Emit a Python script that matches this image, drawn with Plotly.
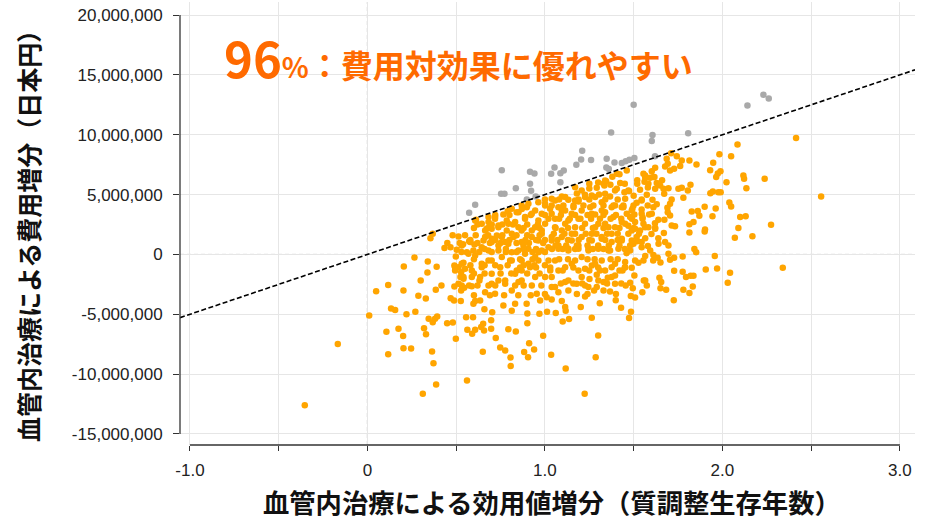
import plotly.graph_objects as go

# ---- data (QALY gain, cost difference in million yen) ----
gray_qaly = [0.607, 0.573, 1.373, 1.21, 1.204, 1.26, 1.348, 1.392, 1.433, 1.455,
             1.346, 1.36, 1.177, 1.054, 1.035, 1.087, 1.106, 1.087, 0.916, 0.941,
             0.916, 0.922, 0.757, 0.836, 0.753, 0.772, 0.898, 0.948, 1.50, 2.141,
             2.231, 2.261, 1.606, 1.602, 1.807, 1.476, 1.504, 1.62]
gray_cost_m = [4.15, 3.48, 10.19, 8.66, 7.94, 7.88, 7.99, 7.69, 7.63, 7.79,
               7.27, 7.13, 7.49, 7.27, 6.74, 6.79, 7.02, 6.04, 6.91, 6.77,
               5.9, 5.32, 7.04, 5.54, 5.07, 5.07, 4.59, 4.85, 12.5, 12.45,
               13.34, 13.03, 9.97, 9.47, 10.13, 7.91, 8.05, 8.2]

orange_qaly = [
    0.368, 0.355, 0.513, 0.612, 0.434, 0.468, 0.539, 0.573, 0.603, 0.503, 0.56, 0.597,
    2.415, 2.556, 2.085, 1.983, 2.049, 1.948, 1.931, 1.989, 1.974, 1.965,
    2.023, 2.118, 2.122, 2.238, 2.135, 1.932, 1.946, 1.977, 1.99, 2.039,
    2.049, 1.962, 1.9, 1.861, 1.827, 1.87, 1.944, 1.837, 1.814, 1.902,
    1.9, 1.814, 2.1, 2.131, 2.09, 2.274, 2.169, 2.07, 1.842, 1.852,
    1.711, 1.743, 1.771, 1.814, 1.854, 1.686, 1.692, 1.677, 1.705, 1.728,
    1.762, 1.621, 1.602, 1.555, 1.565, 1.593, 1.617, 1.561, 1.63, 1.649,
    1.668, 1.696, 1.621, 1.752, 1.771, 1.805, 1.82, 1.672, 1.78, 1.714,
    1.705, 1.536, 1.474, 1.574, 1.606, 1.545, 1.517, 1.579, 1.611, 1.545,
    1.493, 1.504, 1.48, 1.587, 1.639, 1.673, 1.692, 1.705, 1.714, 1.733,
    1.508, 1.555, 1.583, 1.621, 1.536, 1.489, 1.517, 1.565, 1.639, 1.677,
    1.696, 1.499, 1.545, 1.593, 1.48, 1.611, 1.696,
    2.34, 2.043, 2.03, 1.97, 1.906, 1.957, 1.776, 1.728, 1.705,
    1.728, 1.776, 1.795, 1.821, 1.837, 1.833, 1.814, 1.78, 1.726,
    1.683, 1.651, 1.655, 1.645, 1.574, 1.557, 1.549, 1.508, 1.484, 1.495,
    1.48, 1.504, 1.489, 1.527, 1.555, 1.61, 1.651, 1.635, 1.565, 1.485, 1.474,
    -0.167, -0.353, 0.01, 0.049, 0.117, 0.133, 0.156, 0.107, 0.117, 0.175,
    0.201, 0.203, 0.246, 0.22, 0.27, 0.203, 0.205, 0.265, 0.287, 0.329,
    0.3, 0.338, 0.34, 0.39, 0.385, 0.417, 0.345, 0.368, 0.381, 0.393,
    0.319, 0.33, 0.364, 0.372, 0.387, 0.312, 0.449, 0.481, 0.498, 0.561,
    0.556, 0.595, 0.563, 0.59, 0.607, 0.469, 0.488, 0.526, 0.49, 0.528,
    0.545, 0.531, 0.573, 0.588, 0.597, 0.607, 0.524, 0.541, 0.588, 0.528,
    0.49, 0.513, 0.541, 0.498, 0.569, 0.607, 0.55, 0.494,
    1.224, 1.117, 1.035, 1.286, 1.3, 1.264, 0.807, 0.806, 0.905, 0.883,
    0.939, 0.911, 0.776, 0.748, 0.65, 0.723, 0.794, 0.836, 0.697, 0.697,
    0.652, 0.641, 0.657, 0.901, 0.99, 1.1, 1.136, 1.061, 1.012, 0.969,
    0.901, 0.813, 0.703, 0.659, 1.117, 1.202, 1.309, 1.399, 1.429, 1.226,
    1.277, 1.367, 1.33, 1.455, 1.395, 1.354, 1.437, 1.452, 1.226, 1.179,
    1.251, 1.292, 1.189, 1.095, 1.038, 1.114,
    0.644, 0.7, 0.738, 0.663, 0.719, 0.766, 0.813, 0.851, 0.869, 0.907,
    0.945, 0.973, 0.954, 0.926, 1.001, 1.038, 1.076, 1.114, 1.132, 1.151,
    1.02, 0.813, 0.757, 0.682, 0.832, 0.776, 0.7, 1.207, 1.264, 1.32,
    1.376, 1.395, 1.33, 1.292, 1.076, 1.01, 0.897, 0.832, 0.635, 0.631,
    1.17, 1.292, 1.345, 1.335, 1.369, 1.424, 1.405, 1.448, 1.452, 1.095,
    1.038, 1.132, 1.189, 1.226, 1.264, 1.305, 1.367, 1.32, 1.395, 1.442,
    0.963, 0.907, 1.001, 0.869, 0.813, 0.851, 0.766, 0.719, 0.682, 0.644,
    0.663, 0.7, 0.738, 0.794, 0.832, 0.888, 0.926, 0.982, 1.029, 1.076,
    1.114, 1.161, 1.207, 1.255, 1.283, 1.339, 1.386, 1.433, 1.461, 1.057,
    1.132, 1.189, 1.226, 1.301, 1.358, 1.001, 0.945, 0.869, 0.813, 0.757,
    0.7, 0.654, 0.738, 0.794, 0.869, 0.926, 0.982, 1.038, 1.095, 1.151,
    1.207, 1.264, 1.32, 1.376, 1.433, 1.02, 1.076, 1.132, 1.189, 1.245,
    1.301, 1.367, 0.851, 0.907, 0.963, 0.682,
    0.607, 0.682, 0.672, 0.663, 0.644, 0.70, 0.729, 0.738, 0.785, 0.785,
    0.776, 0.823, 0.851, 0.841, 0.888, 0.898, 0.945, 0.963, 0.926, 0.879,
    0.963, 0.982, 0.531, 0.579,
    0.494, 0.531, 0.541, 0.588, 0.644, 0.635, 0.70, 0.748, 0.776,
    0.804, 0.841, 0.869, 0.869, 0.916, 0.945, 0.963, 0.832, 0.513, 0.682,
    0.813, 0.738, 0.888, 0.719, 0.982, 1.001,
    1.057, 1.114, 1.17, 1.226, 1.283, 1.339, 1.33, 1.395, 1.47, 1.545,
    1.583, 1.565, 1.611, 1.038, 1.095, 1.151, 1.264, 1.32, 1.376,
    1.433, 1.489, 1.545, 1.602, 1.057, 1.114, 1.17, 1.283, 1.339,
    1.395, 1.452, 1.508, 1.565, 1.621, 1.038, 1.095, 1.151, 1.264,
    1.32, 1.376, 1.433, 1.489, 1.545, 1.076, 1.132, 1.189, 1.245, 1.301, 1.358, 1.414,
    1.057, 1.114, 1.17, 1.226, 1.283, 1.339, 1.395, 1.452, 1.038, 1.132,
    1.207, 1.301, 1.376, 1.057, 1.245, 1.508, 1.565,
    1.207, 1.339, 1.405, 1.461,
    # second pass through the dense core
    1.038, 1.104, 1.161, 1.217, 1.273, 1.33, 1.386, 1.442, 1.499,
    1.02, 1.08, 1.14, 1.20, 1.26, 1.31, 1.37, 1.43, 1.49, 1.55,
    1.05, 1.11, 1.17, 1.23, 1.29, 1.35, 1.41, 1.47, 1.53,
    1.06, 1.12, 1.18, 1.24, 1.30, 1.36, 1.42, 1.48,
    1.03, 1.10, 1.25, 1.31, 1.42, 1.09, 1.16, 1.21, 1.35, 1.43,
    1.0, 1.18, 1.24, 1.4,
    0.79, 0.87,
    0.62, 0.70, 0.76, 0.82, 0.90, 0.96,
    0.48, 0.55, 0.61, 0.68, 0.76, 0.84, 0.90, 0.97,
    0.45, 0.52, 0.62, 0.69, 0.75, 0.84, 0.91, 0.99,
    0.53, 0.63, 0.70, 0.78, 0.84, 0.93, 1.0,
    0.58, 0.66, 0.72, 0.79, 0.88, 0.94, 1.0,
    0.60, 0.66, 0.75, 0.81, 0.90, 0.97,
    0.62, 0.72, 0.88, 0.98,
    0.60, 0.69, 0.77, 0.85, 0.92,
    1.52, 1.58, 1.66, 1.50, 1.63, 1.69, 1.55, 1.62, 1.47, 1.60,
    1.67, 1.52, 1.58, 1.64, 1.46,
    1.25, 1.38, 1.42, 1.30, 1.18,
    # third pass through the densest part
    0.72, 0.80, 0.92, 1.00, 1.09, 1.17, 1.24, 1.33, 1.40,
    0.60, 0.68, 0.88, 0.97, 1.06, 1.13, 1.21, 1.27, 1.33, 1.42, 1.50,
    0.58, 0.72, 0.80, 0.89, 0.95, 1.00, 1.07, 1.13, 1.19, 1.25, 1.34, 1.41,
    0.66, 0.78, 0.88, 0.95, 1.04, 1.10, 1.17, 1.27, 1.33, 1.45,
    0.60, 0.86, 0.93, 1.08, 1.13, 1.24, 1.28, 1.37, 1.41,
    0.86, 0.95, 1.03, 1.16, 1.30, 1.45,
    1.00, 1.08, 1.19, 1.25, 1.34, 1.41,
    1.25, 1.45, 1.52,
]
orange_cost_m = [
    1.73, 1.36, 1.50, 2.90, 0.53, 0.61, 0.86, 1.11, 0.84, 0.39, 0.19, 0.33,
    9.72, 4.85, 9.19, 8.38, 8.21, 7.66, 7.04, 6.96, 6.77, 6.46,
    6.04, 6.6, 6.32, 6.32, 5.54, 5.12, 5.26, 5.2, 5.2, 4.34,
    4.01, 3.84, 3.98, 3.62, 3.59, 3.23, 3.2, 2.7, 2.53, 2.09,
    1.92, 1.84, 3.12, 3.2, 2.2, 2.48, 1.53, 1.39, 0.45, 0.19,
    8.46, 8.21, 7.85, 7.85, 7.52, 7.99, 7.58, 7.35, 7.02, 7.16,
    7.38, 7.24, 6.96, 6.74, 6.41, 6.41, 6.46, 6.07, 5.96, 5.76,
    5.49, 5.54, 5.49, 5.49, 5.57, 5.35, 5.82, 5.07, 4.74, 4.59,
    4.24, 5.4, 5.29, 4.99, 4.57, 4.59, 4.32, 4.09, 3.95, 3.76,
    3.82, 3.34, 3.12, 3.34, 2.9, 2.9, 3.53, 3.26, 2.42, 2.36,
    2.7, 2.56, 2.28, 2.23, 2.0, 2.0, 1.45, 1.36, 1.36, 1.03,
    0.75, 0.89, 0.61, 0.33, 0.33, -0.05, 0.06,
    -1.11, -1.53, -2.36, -1.17, -1.25, -0.14, -0.17, -0.28, -0.45,
    -1.36, -1.45, -1.89, -1.78, -1.78, -2.67, -3.23, -2.95, -3.82,
    -2.95, -2.82, -2.31, -1.95, -2.59, -2.17, -3.15, -3.59, -3.48, -2.82,
    -2.36, -1.75, -1.11, -0.69, -0.5, -0.5, -0.67, -0.28, -0.14, -4.79, -5.32,
    -7.49, -12.6, -5.1, -3.07, -2.56, -4.51, -4.65, -6.46, -8.33, -6.21,
    -6.82, -7.83, -7.85, -4.99, -4.79, -3.01, -1.0, -0.25, -3.45, -3.68,
    -2.17, -1.5, -0.58, -1.03, -2.95, -2.59, -5.37, -5.66, -5.37, -5.18,
    -6.16, -6.66, -8.1, -9.08, -10.86, -11.64, -5.74, -5.68, -7.04, -10.53,
    -5.24, -5.24, -6.29, -6.63, -6.29, -3.65, -3.84, -3.9, -2.67, -3.01,
    -2.78, -2.59, -2.59, -2.65, -4.12, -3.9, -1.89, -2.03, -1.89, -1.48,
    -0.92, -1.06, -0.69, -0.17, 0.06, -0.08, -1.2, -1.34,
    -11.64, -9.52, -8.38, -8.58, -6.77, -5.29, -9.33, -8.6, -8.58, -8.16,
    -7.94, -7.41, -8.02, -7.77, -8.13, -6.99, -6.24, -6.43, -6.21, -5.49,
    -5.79, -6.07, -6.35, -5.74, -6.79, -5.6, -5.4, -4.9, -4.79, -4.96,
    -4.93, -4.7, -4.82, -4.57, -4.7, -4.4, -4.07, -3.82, -4.45, -3.51,
    -3.01, -3.09, -3.01, -2.59, -2.45, -1.95, -1.34, -0.64, -2.59, -2.45,
    -2.06, -1.7, -1.34, -3.9, -3.76, -4.4,
    -1.06, -1.62, -2.17, -3.15, -3.29, -4.26, -3.01, -2.31, -1.34, -0.78,
    -0.22, -3.84, -3.29, -2.59, -1.89, -2.73, -1.34, -2.31, -3.01, -0.78,
    -0.5, -0.5, -0.22, -0.5, -1.62, -2.45, -2.45, -0.22, -0.92, -0.5,
    -1.06, -1.75, -2.31, -2.73, -3.15, -3.57, -4.12, -4.12, -3.84, -2.17,
    5.62, 5.57, 6.12, 5.76, 5.82, 5.96, 5.49, 5.2, 4.65, 4.85,
    4.65, 4.57, 4.43, 4.99, 4.93, 5.01, 4.85, 4.37, 4.09, 3.95,
    4.37, 4.24, 4.09, 4.09, 3.82, 3.53, 3.34, 2.98, 2.7, 2.56,
    2.0, 2.14, 2.28, 2.56, 2.7, 2.98, 3.4, 3.4, 3.82, 3.95,
    3.68, 3.95, 3.68, 3.95, 3.34, 3.53, 3.12, 2.7, 3.4, 2.98,
    2.84, 2.98, 2.56, 2.56, 2.28, 2.56, 2.28, 2.0, 1.73, 1.45,
    1.31, 1.17, 0.75, 0.89, 1.03, 1.45, 1.73, 1.45, 2.0, 1.73,
    1.45, 1.73, 1.31, 1.73, 1.17, 0.61, 0.75, 0.47, 0.75, 0.47,
    0.61, 0.33, 0.33, 0.47, 0.19, 0.33,
    2.84, 3.12, 2.14, 1.45, 0.61, 1.03, 1.59, 2.42, 2.84, 2.0,
    1.03, 1.45, 2.28, 3.53, 3.12, 3.95, 3.68, 2.84, 2.0, 0.75,
    1.17, 0.33, 0.75, 1.03,
    -1.06, -0.78, -1.89, -1.34, -0.78, -1.89, -0.5, -1.06, -2.17,
    -0.5, -1.34, -0.5, -2.17, -1.06, -1.89, -0.5, -2.59, -2.45, -2.59,
    0.19, 0.33, 0.06, 3.12, 2.0, 4.24,
    4.51, 4.79, 4.51, 4.79, 4.79, 5.07, 5.9, 5.35, 5.35, 4.51,
    5.9, 6.6, 6.46, 3.4, 3.68, 3.4, 3.4, 3.68, 3.95,
    3.95, 3.68, 3.4, 3.4, 2.28, 2.56, 2.28, 2.28, 2.56,
    2.28, 2.56, 2.14, 2.28, 2.14, 1.17, 1.45, 1.17, 1.17,
    1.45, 1.03, 1.31, 1.17, 1.03, 0.47, 0.33, 0.47, 0.33, 0.47, 0.33, 0.47,
    -0.5, -1.06, -0.5, -1.2, -0.78, -1.34, -0.78, -1.06, -1.89, -2.17,
    -1.89, -2.17, -1.89, -2.73, -2.73, -0.5, -2.17,
    5.35, 6.18, 6.74, 7.02,
    # second pass through the dense core
    4.09, 4.09, 4.09, 4.09, 4.09, 4.09, 4.09, 4.09, 4.09,
    2.98, 2.98, 2.98, 2.98, 2.98, 2.98, 2.98, 2.98, 2.98, 2.98,
    1.73, 1.73, 1.73, 1.73, 1.73, 1.73, 1.73, 1.73, 1.73,
    0.75, 0.75, 0.75, 0.75, 0.75, 0.75, 0.75, 0.75,
    -1.34, -1.34, -1.34, -1.34, -1.34, -2.42, -2.42, -2.42, -2.42, -2.42,
    -3.3, -3.3, -3.3, -3.3,
    3.6, 3.8,
    2.5, 2.5, 2.5, 2.5, 2.5, 2.5,
    1.6, 1.6, 1.6, 1.6, 1.6, 1.6, 1.6, 1.6,
    0.95, 0.95, 0.95, 0.95, 0.95, 0.95, 0.95, 0.95,
    0.2, 0.2, 0.2, 0.2, 0.2, 0.2, 0.2,
    -0.9, -0.9, -0.9, -0.9, -0.9, -0.9, -0.9,
    -1.6, -1.6, -1.6, -1.6, -1.6, -1.6,
    -2.6, -2.6, -2.6, -2.6,
    -3.4, -3.4, -3.4, -3.4, -3.4,
    6.2, 5.6, 6.2, 4.9, 4.2, 3.9, 3.1, 2.6, 2.4, 1.7,
    1.8, 1.1, 0.7, 0.9, 0.1,
    5.5, 6.5, 6.7, 6.0, 5.1,
    # third pass through the densest part
    3.3, 3.3, 3.3, 3.3, 3.3, 3.3, 3.3, 3.3, 3.3,
    2.2, 2.2, 2.2, 2.2, 2.2, 2.2, 2.2, 2.2, 2.2, 2.2, 2.2,
    1.2, 1.2, 1.2, 1.2, 1.2, 1.2, 1.2, 1.2, 1.2, 1.2, 1.2, 1.2,
    0.45, 0.45, 0.45, 0.45, 0.45, 0.45, 0.45, 0.45, 0.45, 0.45,
    -0.4, -0.4, -0.4, -0.4, -0.4, -0.4, -0.4, -0.4, -0.4,
    -1.1, -1.1, -1.1, -1.1, -1.1, -1.1,
    4.6, 4.6, 4.6, 4.6, 4.6, 4.6,
    5.9, 5.9, 5.9,
]

wtp_per_qaly = 5_000_000          # willingness-to-pay threshold (yen / QALY)
x_range = [-1.056, 3.085]
y_range = [-15.92e6, 21.09e6]
x_tick_vals = [-1.0, -0.5, 0.0, 0.5, 1.0, 1.5, 2.0, 2.5, 3.0]
x_tick_text = ["-1.0", "", "0", "", "1.0", "", "2.0", "", "3.0"]
y_tick_vals = [-15e6, -10e6, -5e6, 0, 5e6, 10e6, 15e6, 20e6]
y_tick_text = [f"{int(v):,}" for v in y_tick_vals]

JP = "Noto Sans CJK JP"
NUM = "Liberation Sans, Arial, sans-serif"

fig = go.Figure()
fig.add_trace(go.Scatter(
    x=gray_qaly, y=[v * 1e6 for v in gray_cost_m], mode="markers",
    marker=dict(color="#A9A9A9", size=6.5, line=dict(width=0)),
    hoverinfo="skip", showlegend=False))
fig.add_trace(go.Scatter(
    x=orange_qaly, y=[v * 1e6 for v in orange_cost_m], mode="markers",
    marker=dict(color="#FFA500", size=6.5, line=dict(width=0)),
    hoverinfo="skip", showlegend=False))
# willingness-to-pay line
fig.add_trace(go.Scatter(
    x=x_range, y=[wtp_per_qaly * v for v in x_range], mode="lines",
    line=dict(color="black", width=1.6, dash="5px,2.5px"),
    hoverinfo="skip", showlegend=False))

shapes = [
    dict(type="line", xref="x", yref="paper", x0=0, x1=0, y0=0, y1=1,
         line=dict(color="#707070", width=1, dash="4px,3px"), layer="between"),
    dict(type="line", xref="paper", yref="y", x0=0, x1=1, y0=0, y1=0,
         line=dict(color="#707070", width=1, dash="4px,3px"), layer="between"),
    dict(type="line", xref="paper", yref="y", x0=0, x1=0,
         y0=y_tick_vals[0], y1=y_tick_vals[-1],
         line=dict(color="#333333", width=1.3), layer="above"),
    dict(type="line", xref="x", yref="paper", x0=x_tick_vals[0], x1=x_tick_vals[-1],
         y0=0, y1=0, line=dict(color="#333333", width=1.3), layer="above"),
]

annotations = [
    dict(text="<b>血管内治療による効用値増分（質調整生存年数）</b>",
         xref="paper", yref="paper", x=0.5066, y=-0.127, xanchor="center", yanchor="middle",
         showarrow=False, font=dict(family=JP, size=26.3, color="#111")),
    dict(text="<b>血管内治療による費用増分（日本円）</b>",
         xref="paper", yref="paper", x=-0.207, y=0.485, xanchor="center", yanchor="middle",
         textangle=-90, showarrow=False, font=dict(family=JP, size=25, color="#111")),
    dict(text="<b><span style='font-size:49px'>96</span><span style='font-size:28px'>%</span>：費用対効果に優れやすい</b>",
         xref="paper", yref="paper", x=0.0571, y=0.876, xanchor="left", yanchor="middle",
         showarrow=False, font=dict(family=JP, size=32, color="#FF6A00")),
]

fig.update_layout(
    width=930, height=524,
    margin=dict(l=180, r=15, t=2, b=79),
    paper_bgcolor="white", plot_bgcolor="white",
    shapes=shapes, annotations=annotations,
    xaxis=dict(range=x_range, tickvals=x_tick_vals, ticktext=x_tick_text,
               showgrid=True, gridcolor="#E6E6E6", gridwidth=1, zeroline=False,
               showline=False, ticks="outside", ticklen=5, tickcolor="#333",
               tickwidth=1.2, ticklabelstandoff=5,
               tickfont=dict(family=NUM, size=17, color="#222")),
    yaxis=dict(range=y_range, tickvals=y_tick_vals, ticktext=y_tick_text,
               showgrid=True, gridcolor="#E6E6E6", gridwidth=1, zeroline=False,
               showline=False, ticks="outside", ticklen=6, tickcolor="#333",
               tickwidth=1.2, ticklabelstandoff=7,
               tickfont=dict(family=NUM, size=17, color="#222")),
)

fig.write_html("out.html",
               config={"displayModeBar": False},
               post_script="document.body.style.margin='0';document.body.style.padding='0';")
